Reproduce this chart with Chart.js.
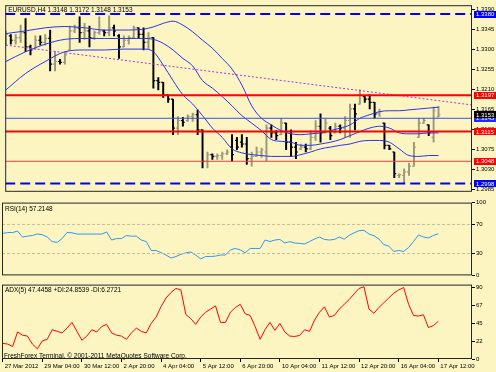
<!DOCTYPE html>
<html><head><meta charset="utf-8">
<script src="https://cdn.jsdelivr.net/npm/chart.js@4.4.1/dist/chart.umd.min.js"></script>
<style>
html,body{margin:0;padding:0;background:#fcf5c2;}
#wrap{position:relative;width:496px;height:372px;overflow:hidden;background:#fcf5c2;}
canvas{position:absolute;left:0;}
</style></head><body>
<div id="wrap">
<canvas id="cMain" width="496" height="197" style="top:0;width:496px;height:197px"></canvas>
<canvas id="cRsi" width="496" height="82" style="top:198px;width:496px;height:82px"></canvas>
<canvas id="cAdx" width="496" height="92" style="top:280px;width:496px;height:92px"></canvas>
</div>
<script>
// ---------------- data ----------------
const symbol = 'EURUSD,H4';
const timeLabels = ['27 Mar 2012','29 Mar 04:00','30 Mar 12:00','2 Apr 20:00','4 Apr 04:00','5 Apr 12:00','6 Apr 20:00','10 Apr 04:00','11 Apr 12:00','12 Apr 20:00','16 Apr 04:00','17 Apr 12:00'];
const barsPerLabel = 8;

const open = [1.3316,1.3331,1.3321,1.3327,1.3338,1.3306,1.3301,1.3321,1.3316,1.3325,
1.3267,1.3273,1.3271,1.3299,1.3342,1.3349,1.3338,1.3342,1.3327,1.3338,
1.3342,1.3338,1.3349,1.3331,1.3306,1.3321,1.3327,1.3349,1.3334,1.3316,
1.3327,1.3230,1.3226,1.3198,1.3188,1.3123,1.3140,1.3140,1.3149,1.3153,
1.3119,1.3048,1.3063,1.3059,1.3061,1.3065,1.3080,1.3095,1.3091,1.3087,
1.3054,1.3059,1.3069,1.3069,1.3123,1.3112,1.3108,1.3134,1.3091,1.3080,
1.3076,1.3080,1.3076,1.3102,1.3127,1.3112,1.3123,1.3112,1.3127,1.3123,
1.3140,1.3166,1.3177,1.3194,1.3188,1.3181,1.3155,1.3134,1.3084,1.3069,
1.3016,1.3016,1.3024,1.3037,1.3102,1.3134,1.3130,1.3102,1.3148];
const high = [1.3342,1.3334,1.3334,1.3355,1.3370,1.3310,1.3331,1.3331,1.3334,1.3344,
1.3295,1.3278,1.3295,1.3353,1.3355,1.3374,1.3359,1.3353,1.3342,1.3374,
1.3344,1.3376,1.3355,1.3334,1.3331,1.3331,1.3353,1.3349,1.3349,1.3338,
1.3327,1.3237,1.3226,1.3198,1.3188,1.3149,1.3147,1.3153,1.3157,1.3164,
1.3119,1.3069,1.3065,1.3065,1.3069,1.3074,1.3108,1.3102,1.3108,1.3102,
1.3069,1.3080,1.3078,1.3130,1.3130,1.3117,1.3145,1.3134,1.3119,1.3091,
1.3087,1.3087,1.3117,1.3140,1.3155,1.3145,1.3127,1.3134,1.3130,1.3149,
1.3177,1.3177,1.3209,1.3194,1.3198,1.3181,1.3166,1.3134,1.3084,1.3069,
1.3020,1.3031,1.3044,1.3091,1.3145,1.3145,1.3130,1.3170,1.3172];
const low = [1.3310,1.3312,1.3312,1.3316,1.3295,1.3288,1.3301,1.3310,1.3310,1.3252,
1.3252,1.3267,1.3267,1.3299,1.3338,1.3316,1.3323,1.3306,1.3323,1.3334,
1.3331,1.3331,1.3331,1.3280,1.3306,1.3312,1.3327,1.3327,1.3299,1.3301,
1.3213,1.3209,1.3192,1.3181,1.3108,1.3108,1.3127,1.3138,1.3138,1.3108,
1.3033,1.3033,1.3052,1.3052,1.3052,1.3063,1.3048,1.3074,1.3080,1.3041,
1.3037,1.3059,1.3057,1.3048,1.3102,1.3097,1.3108,1.3074,1.3059,1.3054,
1.3074,1.3069,1.3074,1.3095,1.3091,1.3112,1.3097,1.3112,1.3112,1.3102,
1.3102,1.3119,1.3177,1.3181,1.3166,1.3145,1.3149,1.3076,1.3074,1.3011,
1.3011,1.2999,1.3016,1.3037,1.3102,1.3134,1.3106,1.3091,1.3148];
const close = [1.3334,1.3321,1.3327,1.3338,1.3306,1.3299,1.3321,1.3316,1.3325,1.3267,
1.3273,1.3271,1.3288,1.3342,1.3349,1.3338,1.3342,1.3327,1.3338,1.3342,
1.3338,1.3349,1.3342,1.3306,1.3321,1.3327,1.3349,1.3334,1.3316,1.3327,
1.3230,1.3226,1.3198,1.3188,1.3123,1.3140,1.3136,1.3149,1.3153,1.3119,
1.3048,1.3063,1.3059,1.3061,1.3065,1.3069,1.3063,1.3080,1.3087,1.3054,
1.3059,1.3069,1.3074,1.3123,1.3112,1.3106,1.3134,1.3091,1.3080,1.3069,
1.3080,1.3076,1.3102,1.3127,1.3112,1.3134,1.3106,1.3127,1.3123,1.3140,
1.3166,1.3155,1.3198,1.3188,1.3181,1.3155,1.3160,1.3084,1.3076,1.3020,
1.3018,1.3024,1.3037,1.3080,1.3134,1.3140,1.3112,1.3162,1.3153];

// Bollinger bands, read at these bar indices
const bandIdx = [0,4,8,12,16,20,24,28,30,32,34,36,38,40,42,44,46,48,50,52,54,56,58,60,62,64,66,68,70,72,74,76,78,80,82,84,86,88];
const bandUpper = [1.3336,1.3342,1.3349,1.3352,1.3349,1.3344,1.3344,1.3346,1.3351,1.3359,1.3364,1.3355,1.3340,1.3321,1.3303,1.3280,1.3256,1.3220,1.3173,1.3145,1.3130,1.3117,1.3110,1.3108,1.3110,1.3112,1.3117,1.3123,1.3130,1.3145,1.3153,1.3160,1.3162,1.3162,1.3164,1.3166,1.3168,1.3170];
const bandMiddle = [1.3273,1.3295,1.3312,1.3323,1.3325,1.3325,1.3325,1.3325,1.3323,1.3314,1.3299,1.3280,1.3263,1.3230,1.3213,1.3194,1.3173,1.3151,1.3134,1.3117,1.3097,1.3093,1.3091,1.3084,1.3084,1.3087,1.3091,1.3097,1.3106,1.3115,1.3123,1.3127,1.3123,1.3112,1.3110,1.3110,1.3112,1.3112];
const bandLower = [1.3209,1.3246,1.3273,1.3295,1.3299,1.3299,1.3301,1.3301,1.3295,1.3265,1.3230,1.3198,1.3177,1.3151,1.3123,1.3102,1.3076,1.3067,1.3063,1.3061,1.3059,1.3059,1.3059,1.3063,1.3069,1.3076,1.3080,1.3084,1.3087,1.3093,1.3095,1.3095,1.3091,1.3076,1.3061,1.3059,1.3061,1.3061];

// dotted trend line (bar index, price)
const trendIdx = [0, 94.8];
const trendVal = [1.3310, 1.3175];

// horizontal levels
const levelValues = [1.3380, 1.3197, 1.3145, 1.3115, 1.3048, 1.2998];
const priceTicks = [1.3390,1.3345,1.3300,1.3255,1.3210,1.3165,1.3120,1.3075,1.3030,1.2985];

const rsiName = 'RSI(14)', rsiLast = '57.2148';
const rsi = [57.6,58.9,58.9,60.9,52.7,53.9,54.8,56.8,56.0,52.7,
46.5,45.3,50.6,58.9,58.5,56.8,56.8,56.8,56.8,56.8,
56.8,59.7,48.6,50.6,50.6,54.8,53.9,53.9,48.6,46.5,
34.2,34.2,31.3,28.0,23.9,25.9,29.0,31.0,32.1,28.0,
22.6,25.9,25.9,26.5,28.0,28.0,35.0,37.0,35.0,31.0,
37.0,37.0,37.0,48.6,46.5,48.6,49.4,44.5,46.5,44.5,
44.0,43.2,46.5,50.0,52.7,49.4,48.6,49.4,52.7,49.8,
55.0,58.5,61.5,61.8,56.8,54.5,50.0,42.4,40.3,32.9,
34.2,32.9,38.3,46.5,55.6,52.7,51.5,54.8,57.2];
const rsiLevels = [70, 30];
const rsiTicks = [100, 70, 30, 0];

const adxName = 'ADX(5) 47.4458 +DI:24.8539 -DI:6.2721';
const adx = [19.6,18.8,15.6,34.0,30.0,28.8,18.8,12.8,22.8,24.8,
36.8,34.8,32.8,38.8,46.0,34.8,23.6,28.8,36.8,34.0,
40.8,43.6,32.8,30.0,28.8,24.8,32.8,38.8,34.8,32.8,
44.8,52.8,66.0,76.8,83.6,88.8,86.8,56.0,50.8,43.6,
52.8,58.8,62.8,66.8,46.0,46.0,58.8,64.8,68.8,56.8,
54.8,40.8,24.8,36.8,46.0,36.0,44.8,34.0,28.8,28.4,
29.6,36.8,34.8,48.8,58.8,65.6,52.8,54.8,62.8,68.8,
74.8,82.0,88.8,90.8,62.8,57.6,64.8,70.8,76.8,82.8,
86.8,90.0,68.8,54.8,54.0,55.6,39.6,42.0,47.4];
const adxTicks = [90, 67.5, 45, 22.5, 0];
const copyright = 'FreshForex Terminal, \u00A9 2001-2011 MetaQuotes Software Corp.';

// ---------------- styles / layout ----------------
const FONT = '"Liberation Sans", Arial, sans-serif';
Chart.defaults.font.family = FONT;
Chart.defaults.font.size = 6;
Chart.defaults.color = '#000';
Chart.defaults.animation = false;

const X_MIN = -0.141, X_MAX = 94.81;
const AXIS_W = 24;
const levelStyles = [
  {c:'#0000ff', box:'#0000ff', w:2, d:[10,5]},
  {c:'#ff0000', box:'#ff0000', w:2, d:[]},
  {c:'#3a4cff', box:'#1c2cff', w:1, d:[]},
  {c:'#ff0000', box:'#ff0000', w:2, d:[]},
  {c:'#ff3a3a', box:'#ff0000', w:1, d:[]},
  {c:'#0000ff', box:'#0000ff', w:2, d:[10,5]}
];
const UP = '#9c987c', DOWN = '#000000';
const idx = close.map((_, i) => i);
const barCol = i => close[i] >= open[i] ? UP : DOWN;

const frame = {
  id: 'frame',
  afterDraw(chart) {
    const {ctx, chartArea: a} = chart;
    ctx.save();
    ctx.strokeStyle = '#262626';
    ctx.lineWidth = 1;
    ctx.strokeRect(a.left + 0.5, a.top + 0.5, a.right - a.left - 1, a.bottom - a.top - 1);
    ctx.restore();
  }
};
const panelText = {
  id: 'panelText',
  afterDraw(chart, args, o) {
    const {ctx, chartArea: a} = chart;
    ctx.save();
    ctx.font = '6.5px ' + FONT;
    ctx.fillStyle = '#000';
    ctx.textBaseline = 'middle';
    ctx.textAlign = 'left';
    if (o.top) ctx.fillText(o.top, a.left + 3, a.top + (o.topDy || 6));
    if (o.bottom) ctx.fillText(o.bottom, a.left + 2, a.bottom - 3);
    ctx.restore();
  }
};
const priceBoxes = {
  id: 'priceBoxes',
  afterDraw(chart) {
    const {ctx, chartArea: a} = chart;
    const ys = chart.scales.y;
    const box = (v, col) => {
      const y = ys.getPixelForValue(v);
      ctx.fillStyle = col;
      ctx.fillRect(a.right + 2, Math.round(y - 3.5), 22, 7);
      ctx.fillStyle = '#fff';
      ctx.fillText(v.toFixed(4), a.right + 4, y + 0.5);
    };
    ctx.save();
    ctx.font = '6px ' + FONT;
    ctx.textBaseline = 'middle';
    ctx.textAlign = 'left';
    levelValues.forEach((v, k) => box(v, levelStyles[k].box));
    box(close[close.length - 1], '#000');
    ctx.restore();
  }
};

function xAxis(show) {
  return {
    type: 'linear', min: X_MIN, max: X_MAX, offset: false, display: show,
    grid: {display: show, drawOnChartArea: false, drawTicks: true, tickLength: 3, color: '#000'},
    border: {display: false},
    afterBuildTicks: s => { s.ticks = timeLabels.map((_, k) => ({value: k * barsPerLabel})); },
    afterFit: s => { if (show) s.height = 13; },
    ticks: {
      autoSkip: false, maxRotation: 0, align: 'start', labelOffset: 2, padding: 1,
      font: {size: 6}, color: '#000',
      callback: v => timeLabels[Math.round(v / barsPerLabel)]
    }
  };
}
function yAxis(min, max, tickVals, fmt) {
  return {
    position: 'right', min, max, beginAtZero: false,
    afterFit: s => { s.width = AXIS_W; },
    afterBuildTicks: s => { s.ticks = tickVals.map(v => ({value: v})); },
    grid: {display: true, drawOnChartArea: false, drawTicks: true, tickLength: 3, color: '#000'},
    border: {display: false},
    ticks: {autoSkip: false, padding: 1, font: {size: 6}, color: '#000', callback: fmt}
  };
}
const baseOpts = (padTop) => ({
  responsive: false, animation: false, events: [],
  layout: {padding: {left: 2, right: 0, top: padTop, bottom: 0}},
  plugins: {legend: {display: false}, tooltip: {enabled: false}}
});

// ---------------- main price chart ----------------
const lineDs = (pts, color, width, dash) => ({
  type: 'line', data: pts, borderColor: color, borderWidth: width, borderDash: dash || [],
  pointRadius: 0, fill: false, cubicInterpolationMode: 'monotone'
});
const mainDatasets = [];
levelValues.forEach((v, k) => {
  const s = levelStyles[k];
  mainDatasets.push(lineDs([{x: X_MIN, y: v}, {x: X_MAX, y: v}], s.c, s.w, s.d));
});
mainDatasets.push(lineDs(trendIdx.map((x, k) => ({x, y: trendVal[k]})), '#a238e0', 1, [2, 2]));
[bandUpper, bandMiddle, bandLower].forEach(arr =>
  mainDatasets.push(lineDs(bandIdx.map((x, k) => ({x, y: arr[k]})), '#2a34f0', 1)));
mainDatasets.push({
  type: 'bar', data: idx.map(i => ({x: i, y: [low[i], high[i]]})),
  barThickness: 1.3, borderWidth: 0, backgroundColor: c => barCol(c.dataIndex), grouped: false
});
mainDatasets.push({
  type: 'line', showLine: false, data: idx.map(i => ({x: i, y: open[i]})),
  pointStyle: 'dash', pointRotation: 180, pointRadius: 2, pointBorderWidth: 1.2,
  pointBorderColor: c => barCol(c.dataIndex)
});
mainDatasets.push({
  type: 'line', showLine: false, data: idx.map(i => ({x: i, y: close[i]})),
  pointStyle: 'dash', pointRotation: 0, pointRadius: 2, pointBorderWidth: 1.2,
  pointBorderColor: c => barCol(c.dataIndex)
});
const mainOpts = baseOpts(1);
mainOpts.scales = {x: xAxis(false), y: yAxis(1.29792, 1.34000, priceTicks, v => v.toFixed(4))};
mainOpts.plugins.panelText = {
  top: symbol + ' ' + open[88].toFixed(4) + ' ' + high[88].toFixed(4) + ' ' + low[88].toFixed(4) + ' ' + close[88].toFixed(4),
  topDy: 5
};
new Chart(document.getElementById('cMain'), {
  type: 'line', data: {datasets: mainDatasets}, options: mainOpts, plugins: [frame, panelText, priceBoxes]
});

// ---------------- RSI ----------------
const rsiDatasets = rsiLevels.map(v => lineDs([{x: X_MIN, y: v}, {x: X_MAX, y: v}], '#c4bc9c', 1, [3, 2]));
rsiDatasets.push(lineDs(idx.map(i => ({x: i, y: rsi[i]})), '#2f97f2', 1));
rsiDatasets[rsiDatasets.length - 1].cubicInterpolationMode = 'default';
const rsiOpts = baseOpts(0);
rsiOpts.scales = {x: xAxis(false), y: yAxis(0, 100, rsiTicks, v => String(v))};
rsiOpts.plugins.panelText = {top: rsiName + ' ' + rsiLast, topDy: 7};
new Chart(document.getElementById('cRsi'), {
  type: 'line', data: {datasets: rsiDatasets}, options: rsiOpts, plugins: [frame, panelText]
});

// ---------------- ADX ----------------
const adxDs = lineDs(idx.map(i => ({x: i, y: adx[i]})), '#ff0000', 1);
adxDs.cubicInterpolationMode = 'default';
const adxOpts = baseOpts(1);
adxOpts.scales = {x: xAxis(true), y: yAxis(0, 93.6, adxTicks, v => String(Math.floor(v)))};
adxOpts.plugins.panelText = {top: adxName, topDy: 6, bottom: copyright};
new Chart(document.getElementById('cAdx'), {
  type: 'line', data: {datasets: [adxDs]}, options: adxOpts, plugins: [frame, panelText]
});
</script>
</body></html>
